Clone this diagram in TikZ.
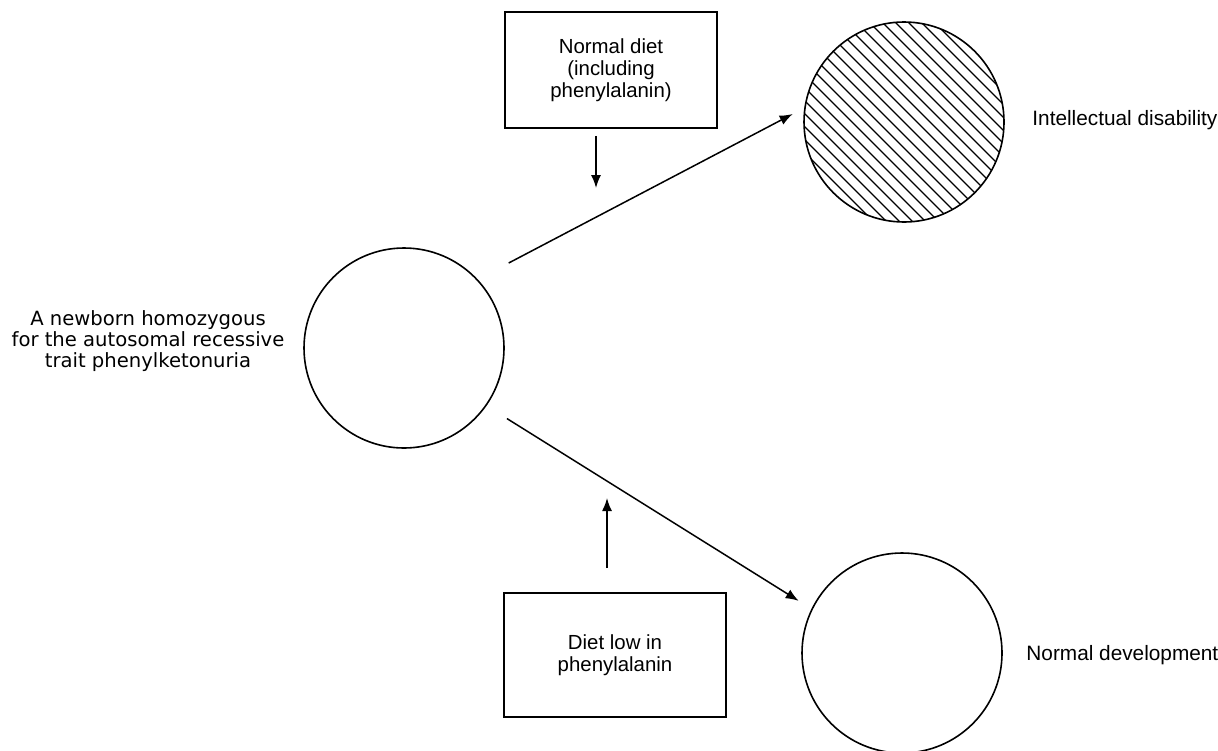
\documentclass[tikz,border=0pt]{standalone}
\usepackage{fontspec}
\setmainfont{Liberation Sans}
\newfontfamily\labelfont{DejaVu Sans}
\usetikzlibrary{arrows.meta}

\tikzset{
	blob/.style={circle, draw, line width=0.8pt, minimum size=100pt, inner sep=0pt},
	dietbox/.style={draw, line width=0.8pt, align=center, inner sep=0pt, font=\fontsize{10.2}{11}\selectfont},
	arr/.style={-{Latex[length=6.5pt,width=5pt]}, line width=0.75pt},
	hatch/.style={line width=0.65pt},
	outcome/.style={anchor=west, inner sep=0pt, font=\fontsize{10.4}{12}\selectfont}
}

\begin{document}
\begin{tikzpicture}[x=0.5pt, y=-0.5pt]
			\useasboundingbox (0,0) rectangle (1218,750);

			% Make circles
			\node[blob] (newborn) at (404,348) {};
			\node[blob] (disability) at (904,122) {};
			\node[blob] (development) at (902,653) {};

			% Hatch the upper outcome
			\begin{scope}
				\clip (904,122) circle (100);
				\foreach \k in {-22,...,22} {
					\draw[hatch] ({904+\k*13-160},-38) -- ++(320,320);
				}
			\end{scope}

			% Make boxes and labels
			\node[dietbox, minimum width=106pt, minimum height=58pt] (normaldiet) at (611,70) {Normal diet\\(including\\phenylalanin)};
			\node[dietbox, minimum width=111pt, minimum height=62pt] (lowdiet) at (615,655) {Diet low in\\phenylalanin};

			\node[align=center, inner sep=0pt, font=\labelfont\fontsize{9.8}{10.6}\selectfont] (newbornlabel) at (148,341) {A newborn homozygous\\for the autosomal recessive\\trait phenylketonuria};
			\node[outcome] (disabilitylabel) at (1032,120) {Intellectual disability};
			\node[outcome] (developmentlabel) at (1026,655) {Normal development};

			% Make arrows
			\coordinate (downtip) at (596,188);
			\coordinate (uptip) at (607,498);

			\draw[arr, shorten <=17.5pt, shorten >=6.5pt] (newborn.43) -- (disability.172);
			\draw[arr, shorten <=12pt, shorten >=7.5pt] (newborn.-35) -- (development.154);
			\draw[arr, shorten <=3.5pt] (downtip |- normaldiet.south) -- (downtip);
			\draw[arr, shorten <=12pt] (uptip |- lowdiet.north) -- (uptip);
\end{tikzpicture}
\end{document}
